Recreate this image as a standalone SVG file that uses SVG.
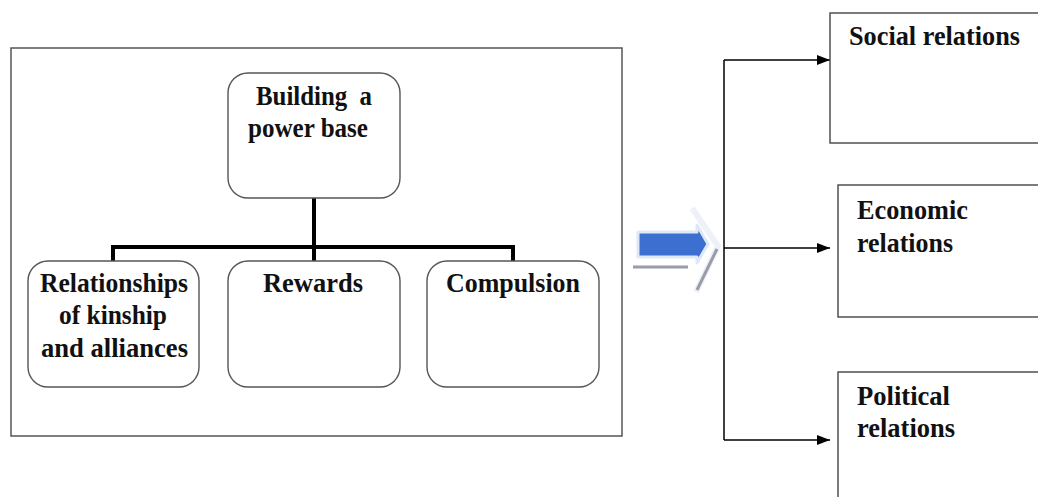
<svg xmlns="http://www.w3.org/2000/svg" width="1038" height="497" viewBox="0 0 1038 497">
<style>
.t{font-family:"Liberation Serif","Times New Roman",serif;font-weight:bold;font-size:27px;fill:#111}
.m{text-anchor:middle}
.node{fill:#fff;stroke:#555;stroke-width:1.4}
.box{fill:#fff;stroke:#444;stroke-width:1.4}
.tree{fill:none;stroke:#000;stroke-width:4}
.con{fill:none;stroke:#000;stroke-width:1.5}
</style>
<defs>
<marker id="ah" markerWidth="13" markerHeight="10" refX="13" refY="5" orient="auto" markerUnits="userSpaceOnUse">
<path d="M0,0 L13,5 L0,10 Z" fill="#000"/>
</marker>
</defs>
<rect width="1038" height="497" fill="#fff"/>
<g id="frame"><rect x="11" y="48" width="611" height="388" fill="none" stroke="#555" stroke-width="1.5"/></g>
<g id="connectors">
<path class="tree" d="M314,198 V261 M113,261 V247 H513 V261"/>
<path class="con" d="M724,60 V440"/>
<path class="con" d="M724,60 H830" marker-end="url(#ah)"/>
<path class="con" d="M724,248 H830" marker-end="url(#ah)"/>
<path class="con" d="M724,440 H830" marker-end="url(#ah)"/>
</g>
<g id="big-arrow">
<path d="M692,208 L718,246 L696,292" fill="none" stroke="#eef2f8" stroke-width="6"/>
<path d="M717,249 L697,290" stroke="#9a9ca8" stroke-width="3"/>
<line x1="633" y1="267" x2="688" y2="267" stroke="#9a9ca8" stroke-width="3"/>
<path d="M638,232 H697 V225 L708,244 L697,263 V257 H638 Z" fill="#3d6fd0" stroke="#dfe8f7" stroke-width="3" stroke-linejoin="round"/>
</g>
<g id="building">
<rect class="node" x="228" y="73" width="172" height="125" rx="20"/>
<text class="t m" x="314" y="105" xml:space="preserve" textLength="116" lengthAdjust="spacingAndGlyphs">Building  a</text>
<text class="t m" x="308" y="137" textLength="120" lengthAdjust="spacingAndGlyphs">power base</text>
</g>
<g id="kinship">
<rect class="node" x="28" y="261" width="171" height="126" rx="20"/>
<text class="t m" x="114" y="292" textLength="148" lengthAdjust="spacingAndGlyphs">Relationships</text>
<text class="t m" x="113" y="324" textLength="108" lengthAdjust="spacingAndGlyphs">of kinship</text>
<text class="t m" x="114.5" y="357" textLength="147" lengthAdjust="spacingAndGlyphs">and alliances</text>
</g>
<g id="rewards">
<rect class="node" x="228" y="261" width="172" height="126" rx="20"/>
<text class="t m" x="313" y="292" textLength="100" lengthAdjust="spacingAndGlyphs">Rewards</text>
</g>
<g id="compulsion">
<rect class="node" x="427" y="261" width="172" height="126" rx="20"/>
<text class="t m" x="513" y="292" textLength="134" lengthAdjust="spacingAndGlyphs">Compulsion</text>
</g>
<g id="social">
<rect class="box" x="830" y="13" width="212" height="130"/>
<text class="t" x="849" y="45" textLength="171" lengthAdjust="spacingAndGlyphs">Social relations</text>
</g>
<g id="economic">
<rect class="box" x="838" y="185" width="204" height="132"/>
<text class="t" x="857" y="219" textLength="111" lengthAdjust="spacingAndGlyphs">Economic</text>
<text class="t" x="857" y="252" textLength="96" lengthAdjust="spacingAndGlyphs">relations</text>
</g>
<g id="political">
<rect class="box" x="838" y="372" width="204" height="130"/>
<text class="t" x="857" y="405" textLength="93" lengthAdjust="spacingAndGlyphs">Political</text>
<text class="t" x="857" y="437" textLength="98" lengthAdjust="spacingAndGlyphs">relations</text>
</g>
</svg>
